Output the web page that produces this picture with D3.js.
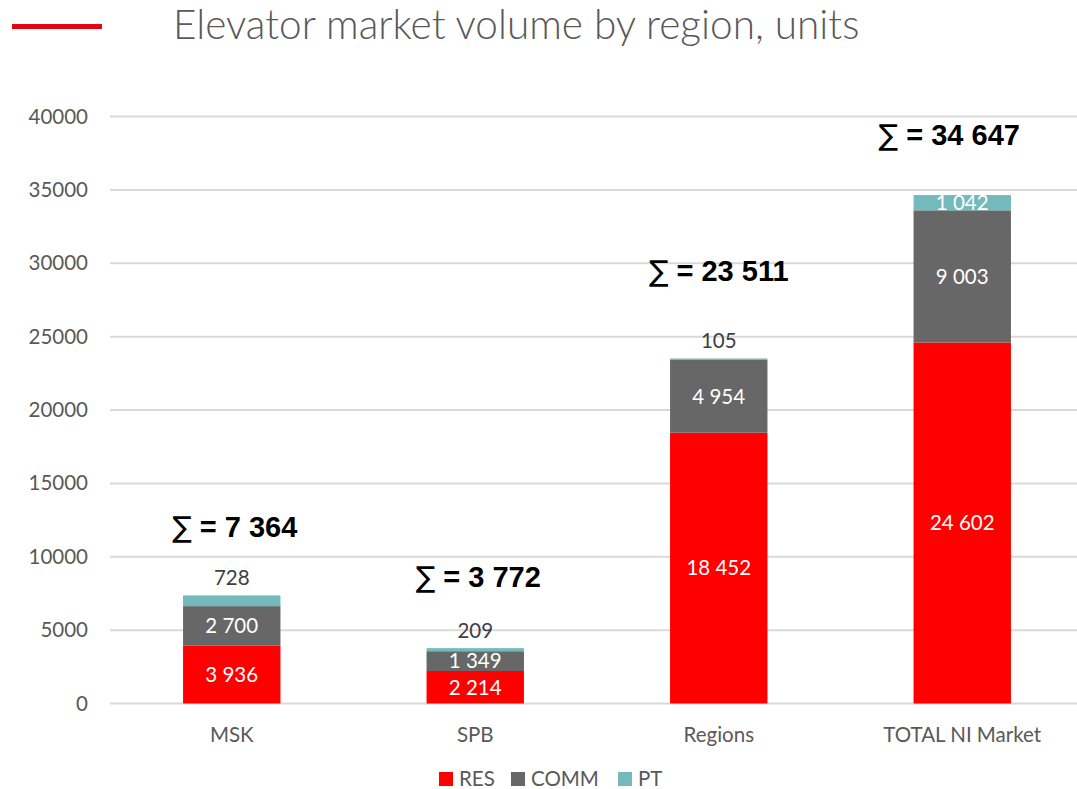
<!DOCTYPE html>
<html>
<head>
<meta charset="utf-8">
<script src="https://cdn.jsdelivr.net/npm/d3@7"></script>
<style>
  body { margin: 0; background: #fff; }
  svg { display: block; font-family: Lato, "Open Sans", sans-serif; }
</style>
</head>
<body>
<svg id="chart" width="1077" height="789"></svg>
<script>
// chart values
const categories = ['MSK', 'SPB', 'Regions', 'TOTAL NI Market'];
const seriesNames = ['RES', 'COMM', 'PT'];
const resValues = [3936, 2214, 18452, 24602];
const commValues = [2700, 1349, 4954, 9003];
const ptValues = [728, 209, 105, 1042];
const yTicks = [0, 5000, 10000, 15000, 20000, 25000, 30000, 35000, 40000];

// layout bits (not data)
const colors = { RES: '#ff0000', COMM: '#676767', PT: '#74b9bc' };
const sumLift = [58, 61, 77, 50];   // sum labels were hand placed in the source
const sumShift = [3, 3, 0, -13];

const width = 1077, height = 789;
const svg = d3.select('#chart');

const x = d3.scaleBand()
  .domain(categories)
  .range([110, 1084])
  .paddingInner(0.6)
  .paddingOuter(0.3);

const y = d3.scaleLinear()
  .domain([0, 40000])
  .range([703.5, 116.5]);

const fmt = v => d3.format(',')(v).replace(/,/g, ' ');

// title + red accent
svg.append('line')
  .attr('x1', 12).attr('x2', 102)
  .attr('y1', 26.5).attr('y2', 26.5)
  .attr('stroke', '#e30613').attr('stroke-width', 5);

svg.append('text')
  .attr('x', 173).attr('y', 39)
  .attr('fill', '#595959')
  .attr('font-size', 40.5)
  .attr('font-weight', 300)
  .text('Elevator market volume by region, units');

// grid + y axis
const yAxis = d3.axisLeft(y).tickValues(yTicks).tickSize(0).tickPadding(0).tickFormat(d3.format('d'));
const gy = svg.append('g').attr('transform', 'translate(88,0)').call(yAxis);
gy.select('.domain').remove();
gy.selectAll('text').attr('fill', '#595959').attr('font-size', 20.5).attr('font-family', 'Lato, sans-serif');

svg.append('g')
  .selectAll('line')
  .data(yTicks)
  .join('line')
  .attr('x1', 110).attr('x2', width)
  .attr('y1', d => y(d)).attr('y2', d => y(d))
  .attr('stroke', '#d9d9d9').attr('stroke-width', 2);

// stacked bars
const rows = categories.map((c, i) => ({ cat: c, RES: resValues[i], COMM: commValues[i], PT: ptValues[i] }));
const stack = d3.stack().keys(seriesNames)(rows);

const layers = svg.append('g')
  .selectAll('g')
  .data(stack)
  .join('g')
  .attr('fill', d => colors[d.key]);

layers.selectAll('rect')
  .data(d => d)
  .join('rect')
  .attr('x', d => x(d.data.cat))
  .attr('width', x.bandwidth())
  .attr('y', d => y(d[1]))
  .attr('height', d => y(d[0]) - y(d[1]));

// segment labels
const labels = svg.append('g').attr('font-size', 20.5).attr('text-anchor', 'middle');
stack.forEach(layer => {
  layer.forEach(d => {
    const v = d[1] - d[0];
    const cx = x(d.data.cat) + x.bandwidth() / 2;
    const h = y(d[0]) - y(d[1]);
    if (layer.key === 'PT' && h < 14) {
      labels.append('text')
        .attr('x', cx).attr('y', y(d[1]) - 10)
        .attr('fill', '#404040')
        .text(fmt(v));
    } else {
      labels.append('text')
        .attr('x', cx).attr('y', (y(d[0]) + y(d[1])) / 2)
        .attr('dy', '0.36em')
        .attr('fill', '#fff')
        .text(fmt(v));
    }
  });
});

// totals
const sums = svg.append('g')
  .attr('text-anchor', 'middle')
  .attr('font-family', '"Liberation Sans", Arial, sans-serif')
  .attr('font-size', 29)
  .attr('font-weight', 'bold')
  .attr('fill', '#000');
rows.forEach((r, i) => {
  const total = r.RES + r.COMM + r.PT;
  const t = sums.append('text')
    .attr('x', x(r.cat) + x.bandwidth() / 2 + sumShift[i])
    .attr('y', y(total) - sumLift[i]);
  t.append('tspan').attr('font-weight', 'normal').attr('font-family', '"DejaVu Sans", sans-serif').text('∑');
  t.append('tspan').text(' = ' + fmt(total));
});

// x axis labels
const xAxis = d3.axisBottom(x).tickSize(0).tickPadding(0);
const gx = svg.append('g').attr('transform', 'translate(0,742)').call(xAxis);
gx.select('.domain').remove();
gx.selectAll('text').attr('dy', 0).attr('fill', '#595959').attr('font-size', 20.5).attr('font-family', 'Lato, sans-serif');

// legend
const legendX = [439, 511, 618];
const legend = svg.append('g');
seriesNames.forEach((s, i) => {
  legend.append('rect')
    .attr('x', legendX[i]).attr('y', 772)
    .attr('width', 14).attr('height', 14)
    .attr('fill', colors[s]);
  legend.append('text')
    .attr('x', legendX[i] + 20).attr('y', 786)
    .attr('fill', '#595959').attr('font-size', 20.5)
    .text(s);
});
</script>
</body>
</html>
